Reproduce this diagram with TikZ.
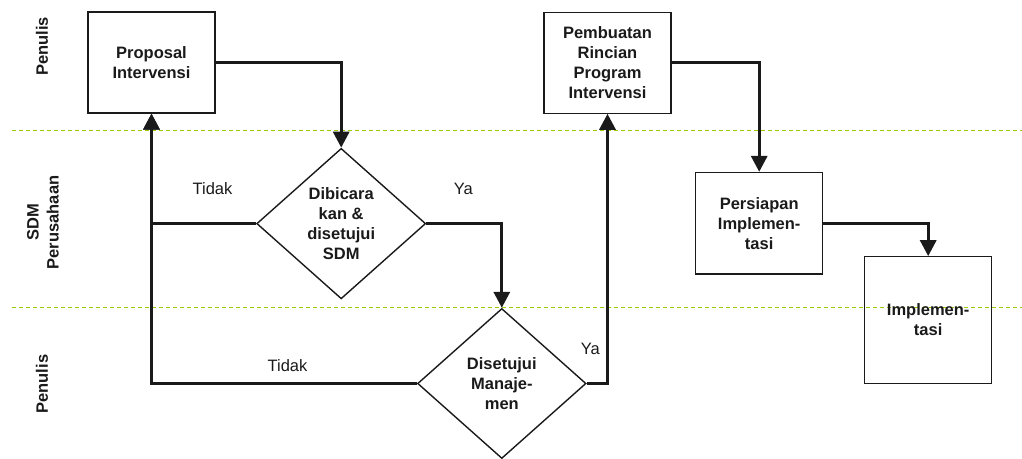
\documentclass[tikz,border=0pt]{standalone}
\usepackage{fontspec}
\setmainfont{Liberation Sans}
\usetikzlibrary{arrows.meta,shapes.geometric}
\definecolor{lanegreen}{HTML}{99CC00}
\definecolor{ink}{HTML}{1A1A1A}
\begin{document}
\begin{tikzpicture}[x=1pt,y=-1pt,
  every node/.style={text=ink},
  procbox/.style={draw=ink, line width=1.2pt, minimum width=127pt, align=center,
    inner sep=0pt, font=\fontsize{16.5}{20}\selectfont\bfseries},
  decision/.style={diamond, draw=ink, line width=1.4pt, align=center,
    inner sep=0pt, font=\fontsize{16.5}{20}\selectfont\bfseries},
  flow/.style={draw=ink, line width=3.2pt, -{Triangle[length=16pt,width=16pt]}},
  lane/.style={draw=lanegreen, line width=1.3pt, dash pattern=on 4pt off 3pt},
  lanelabel/.style={rotate=90, align=center, inner sep=0pt,
    font=\fontsize{16.5}{20}\selectfont\bfseries},
  tag/.style={inner sep=0pt, font=\fontsize{16.5}{20}\selectfont}
]
\useasboundingbox (0,0) rectangle (1022,458);

% swimlane separators
\coordinate (l1a) at (12,130.4);
\coordinate (l1b) at (1022,130.4);
\coordinate (l2a) at (12,307.4);
\coordinate (l2b) at (1022,307.4);
\draw[lane] (l1a) -- (l1b);
\draw[lane] (l2a) -- (l2b);

% lane labels
\node[lanelabel] (laneA) at (42,46.5) {Penulis};
\node[lanelabel] (laneB) at (43,222.5) {SDM\\Perusahaan};
\node[lanelabel] (laneC) at (42,384) {Penulis};

% process steps
\node[procbox, minimum height=101pt] (prop) at (151.5,62.5) {Proposal\\Intervensi};
\node[procbox, minimum height=101pt] (pemb) at (607.5,62.7) {Pembuatan\\Rincian\\Program\\Intervensi};
\node[procbox, minimum height=101.5pt] (prep) at (759.2,223.2) {Persiapan\\Implemen-\\tasi};
\node[procbox, minimum height=126.5pt] (impl) at (928.2,320) {Implemen-\\tasi};

% decisions
\node[decision, minimum width=169pt, minimum height=150.5pt] (hrd) at (341.2,223.6)
  {Dibicara\\kan \&\\disetujui\\SDM};
\node[decision, minimum width=168.5pt, minimum height=150pt] (mgmt) at (501.8,383.5)
  {Disetujui\\Manaje-\\men};

% connectors
\draw[flow] (prop.east) -| (hrd.north);
\draw[flow] (hrd.west) -| (prop.south);
\draw[flow] (hrd.east) -| (mgmt.north);
\draw[flow] (mgmt.west) -| (prop.south);
\draw[flow] (mgmt.east) -| (pemb.south);
\draw[flow] (pemb.east) -| (prep.north);
\draw[flow] (prep.east) -| (impl.north);

% branch labels
\node[tag] (no1) at (212.5,189) {Tidak};
\node[tag] (yes1) at (463.3,189) {Ya};
\node[tag] (no2) at (287.5,365.5) {Tidak};
\node[tag] (yes2) at (590.3,349) {Ya};
\end{tikzpicture}
\end{document}
